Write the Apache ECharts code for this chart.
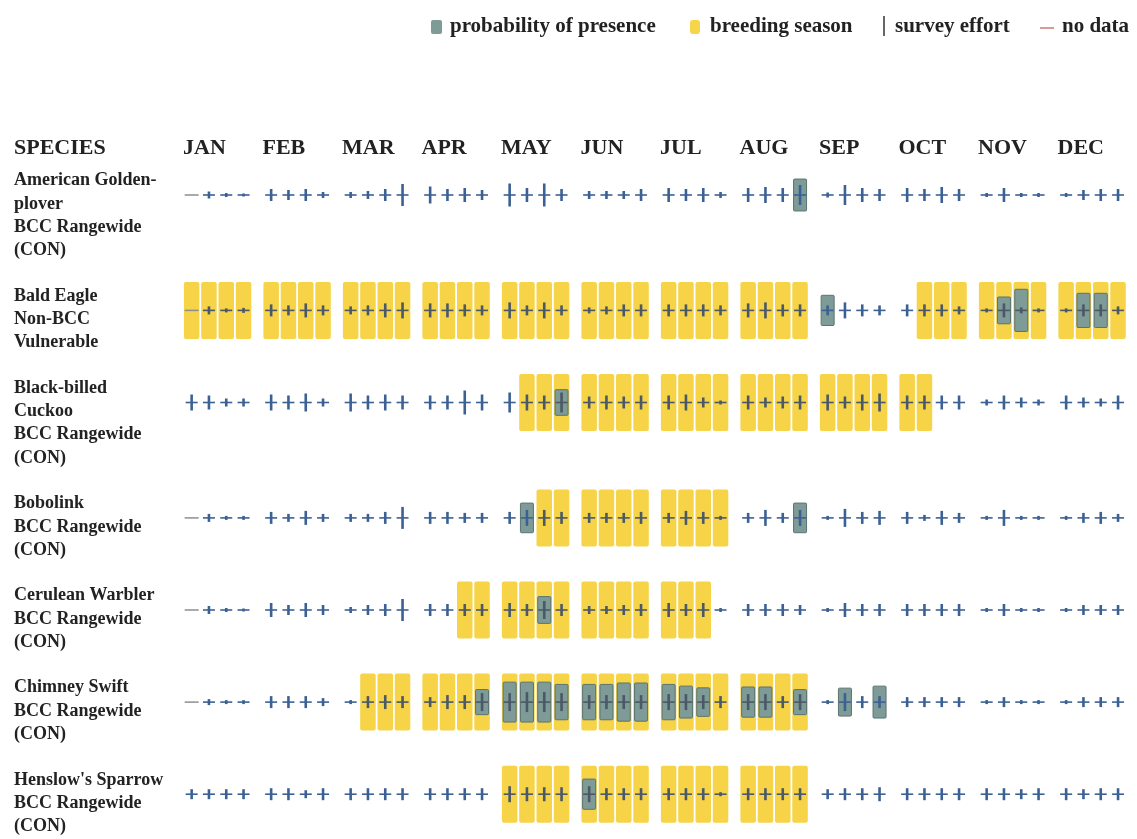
<!DOCTYPE html>
<html>
<head>
<meta charset="utf-8">
<script src="https://cdn.jsdelivr.net/npm/echarts@6/dist/echarts.min.js"></script>
<style>
html,body{margin:0;padding:0;background:#fff;}
#chart{width:1137px;height:839px;}
</style>
</head>
<body>
<div id="chart"></div>
<script>
// ---------------- DATA ----------------
const months = ['JAN','FEB','MAR','APR','MAY','JUN','JUL','AUG','SEP','OCT','NOV','DEC'];
const species = [
  'American Golden-\nplover\nBCC Rangewide\n(CON)',
  'Bald Eagle\nNon-BCC\nVulnerable',
  'Black-billed\nCuckoo\nBCC Rangewide\n(CON)',
  'Bobolink\nBCC Rangewide\n(CON)',
  'Cerulean Warbler\nBCC Rangewide\n(CON)',
  'Chimney Swift\nBCC Rangewide\n(CON)',
  "Henslow's Sparrow\nBCC Rangewide\n(CON)"
];

// survey effort per week (0 = no data), 4 weeks per month
const effortGoldenPlover = [0,3.5,2,1.5, 6,5,6,3, 3,4,6,11, 8.5,6,7,5, 11.5,7,11.5,6, 4,4,4,6, 7,6,7,3, 7,8,7,10, 2.5,10,7,6, 7,6,8,6, 2,7,2,2, 2,5,6,6];
const effortBaldEagle   = [0,4,2,2.5, 6,5,7,5, 4,5,7,8, 7,7,6,5, 8,5,8,5, 3,4,6,6, 6,6,6,5, 7,8,6,6, 5,8,6,5, 6,6,6,4, 2,7,3,2, 2,6,6,4];
const effortCuckoo      = [8,7,4,4, 8,7,9,4, 9,7,8,7, 7,7,12,8, 10,8,7,10, 6,7,6,7, 7,8,5,2, 7,5,6,7, 8,6,8,9, 7,7,7,7, 3,7,5,3, 7,5,4,7];
const effortBobolink    = [0,4,2,2, 6,4,7,4, 4,4,6,11, 6,6,5,5, 6,8,8,6, 5,5,5,6, 5,7,6,2, 5,8,5,8, 2,9,6,7, 6,3,7,5, 2,8,2,2, 2,5,6,4];
const effortCerulean    = [0,4,2,1.5, 7,5,7,5, 3,5,6,11, 6,6,6,6, 7,6,9,6, 4,4,5,6, 7,6,7,2, 6,6,6,5, 2,7,6,6, 6,6,6,6, 2,6,2,2, 2,5,5,5];
const effortSwift       = [0,3,2,2, 6,6,6,4, 2,6,7,6, 5,7,7,9, 9,10,10,9, 7,7,7,7, 8,8,7,6, 8,8,6,8, 2,9,6,6, 5,5,5,5, 2,5,2,2, 2,5,5,5];
const effortHenslow     = [5,5,5,5, 6,6,4,6, 6,6,6,6, 6,6,6,6, 8,7,7,7, 8,6,6,6, 6,6,6,2, 6,6,6,6, 5,6,6,7, 6,6,6,6, 6,6,5,6, 6,5,6,6];

// probability of presence per week (0-10)
const probGoldenPlover = [0,0,0,0, 0,0,0,0, 0,0,0,0, 0,0,0,0, 0,0,0,0, 0,0,0,0, 0,0,0,0, 0,0,0,5.6, 0,0,0,0, 0,0,0,0, 0,0,0,0, 0,0,0,0];
const probBaldEagle   = [0,0,0,0, 0,0,0,0, 0,0,0,0, 0,0,0,0, 0,0,0,0, 0,0,0,0, 0,0,0,0, 0,0,0,0, 5.3,0,0,0, 0,0,0,0, 0,4.7,7.4,0, 0,6,6,0];
const probCuckoo      = [0,0,0,0, 0,0,0,0, 0,0,0,0, 0,0,0,0, 0,0,0,4.5, 0,0,0,0, 0,0,0,0, 0,0,0,0, 0,0,0,0, 0,0,0,0, 0,0,0,0, 0,0,0,0];
const probBobolink    = [0,0,0,0, 0,0,0,0, 0,0,0,0, 0,0,0,0, 0,5.2,0,0, 0,0,0,0, 0,0,0,0, 0,0,0,5.2, 0,0,0,0, 0,0,0,0, 0,0,0,0, 0,0,0,0];
const probCerulean    = [0,0,0,0, 0,0,0,0, 0,0,0,0, 0,0,0,0, 0,0,4.7,0, 0,0,0,0, 0,0,0,0, 0,0,0,0, 0,0,0,0, 0,0,0,0, 0,0,0,0, 0,0,0,0];
const probSwift       = [0,0,0,0, 0,0,0,0, 0,0,0,0, 0,0,0,4.4, 7,7,7,6.2, 6.2,6.2,6.7,6.7, 6.2,5.6,5,0, 5.3,5.3,0,4.4, 0,4.9,0,5.6, 0,0,0,0, 0,0,0,0, 0,0,0,0];
const probHenslow     = [0,0,0,0, 0,0,0,0, 0,0,0,0, 0,0,0,0, 0,0,0,0, 5.3,0,0,0, 0,0,0,0, 0,0,0,0, 0,0,0,0, 0,0,0,0, 0,0,0,0, 0,0,0,0];

// breeding season per week (1 = breeding)
const breedGoldenPlover = [0,0,0,0, 0,0,0,0, 0,0,0,0, 0,0,0,0, 0,0,0,0, 0,0,0,0, 0,0,0,0, 0,0,0,0, 0,0,0,0, 0,0,0,0, 0,0,0,0, 0,0,0,0];
const breedBaldEagle   = [1,1,1,1, 1,1,1,1, 1,1,1,1, 1,1,1,1, 1,1,1,1, 1,1,1,1, 1,1,1,1, 1,1,1,1, 0,0,0,0, 0,1,1,1, 1,1,1,1, 1,1,1,1];
const breedCuckoo      = [0,0,0,0, 0,0,0,0, 0,0,0,0, 0,0,0,0, 0,1,1,1, 1,1,1,1, 1,1,1,1, 1,1,1,1, 1,1,1,1, 1,1,0,0, 0,0,0,0, 0,0,0,0];
const breedBobolink    = [0,0,0,0, 0,0,0,0, 0,0,0,0, 0,0,0,0, 0,0,1,1, 1,1,1,1, 1,1,1,1, 0,0,0,0, 0,0,0,0, 0,0,0,0, 0,0,0,0, 0,0,0,0];
const breedCerulean    = [0,0,0,0, 0,0,0,0, 0,0,0,0, 0,0,1,1, 1,1,1,1, 1,1,1,1, 1,1,1,0, 0,0,0,0, 0,0,0,0, 0,0,0,0, 0,0,0,0, 0,0,0,0];
const breedSwift       = [0,0,0,0, 0,0,0,0, 0,1,1,1, 1,1,1,1, 1,1,1,1, 1,1,1,1, 1,1,1,1, 1,1,1,1, 0,0,0,0, 0,0,0,0, 0,0,0,0, 0,0,0,0];
const breedHenslow     = [0,0,0,0, 0,0,0,0, 0,0,0,0, 0,0,0,0, 1,1,1,1, 1,1,1,1, 1,1,1,1, 1,1,1,1, 0,0,0,0, 0,0,0,0, 0,0,0,0, 0,0,0,0];

const effortRows = [effortGoldenPlover, effortBaldEagle, effortCuckoo, effortBobolink, effortCerulean, effortSwift, effortHenslow];
const probRows   = [probGoldenPlover, probBaldEagle, probCuckoo, probBobolink, probCerulean, probSwift, probHenslow];
const breedRows  = [breedGoldenPlover, breedBaldEagle, breedCuckoo, breedBobolink, breedCerulean, breedSwift, breedHenslow];

// ---------------- LAYOUT ----------------
const FONT = '"Liberation Serif", "DejaVu Serif", serif';
const GRID_LEFT = 183, GRID_TOP = 160, W = 1137, H = 839;
const MONTH_PX = 79.5;
const X_MAX = (W - GRID_LEFT) / MONTH_PX;
const WEEK = 17.3 / MONTH_PX;          // fraction of a month slot per week
const LINE_H = 23.3, ROW_PAD = 22.2, FIRST_TOP = 9, CENTER_OFF = 26;
const Y_MAX = H - GRID_TOP;

function weekX(i) { const m = Math.floor(i / 4), w = i % 4; return m + (w + 0.5) * WEEK; }
const rowTops = [];
{ let t = FIRST_TOP; species.forEach(s => { rowTops.push(t); t += s.split('\n').length * LINE_H + ROW_PAD; }); }
const rowCenters = rowTops.map(t => t + CENTER_OFF);

const breedData = [], probData = [], effortData = [], labelData = [];
species.forEach((s, r) => {
  labelData.push([0, rowTops[r], r]);
  for (let i = 0; i < 48; i++) {
    const x = weekX(i), y = rowCenters[r];
    if (breedRows[r][i]) breedData.push([x, y]);
    if (probRows[r][i] > 0) probData.push([x, y, probRows[r][i]]);
    effortData.push([x, y, effortRows[r][i], breedRows[r][i]]);
  }
});

const chart = echarts.init(document.getElementById('chart'), null, {renderer: 'canvas'});
chart.setOption({
  animation: false,
  backgroundColor: '#fff',
  grid: {left: GRID_LEFT, right: 0, top: GRID_TOP, bottom: 0},
  xAxis: {
    type: 'value', position: 'top', min: 0, max: X_MAX, interval: 1,
    axisLine: {show: false}, axisTick: {show: false}, splitLine: {show: false},
    axisLabel: {
      show: true, showMinLabel: true, showMaxLabel: false,
      formatter: v => months[v] || '', align: 'left', margin: 1,
      fontFamily: FONT, fontWeight: 'bold', fontSize: 22, color: '#222'
    }
  },
  yAxis: {type: 'value', min: 0, max: Y_MAX, inverse: true, show: false},
  graphic: [
    {type: 'text', left: 14, top: 137, style: {text: 'SPECIES', font: 'bold 22px ' + FONT, fill: '#222'}},
    {type: 'rect', shape: {x: 431, y: 20, width: 11, height: 14, r: 2}, style: {fill: '#7f9b97'}},
    {type: 'text', x: 450, y: 27, style: {text: 'probability of presence', font: 'bold 21px ' + FONT, fill: '#222', verticalAlign: 'middle'}},
    {type: 'rect', shape: {x: 690, y: 20, width: 10, height: 14, r: 3}, style: {fill: '#f7d54b'}},
    {type: 'text', x: 710, y: 27, style: {text: 'breeding season', font: 'bold 21px ' + FONT, fill: '#222', verticalAlign: 'middle'}},
    {type: 'line', shape: {x1: 884, y1: 16, x2: 884, y2: 36}, style: {stroke: '#333', lineWidth: 1.5}},
    {type: 'text', x: 895, y: 27, style: {text: 'survey effort', font: 'bold 21px ' + FONT, fill: '#222', verticalAlign: 'middle'}},
    {type: 'line', shape: {x1: 1040, y1: 28, x2: 1054, y2: 28}, style: {stroke: '#d99a9a', lineWidth: 2}},
    {type: 'text', x: 1062, y: 27, style: {text: 'no data', font: 'bold 21px ' + FONT, fill: '#222', verticalAlign: 'middle'}}
  ],
  series: [
    {
      name: 'breeding season', type: 'custom', clip: false, data: breedData, encode: {x: 0, y: 1},
      renderItem: (p, api) => {
        const c = api.coord([api.value(0), api.value(1)]);
        return {type: 'rect', shape: {x: c[0] - 7.75, y: c[1] - 28.5, width: 15.5, height: 57, r: 2}, style: {fill: '#f6d347'}};
      }
    },
    {
      name: 'probability of presence', type: 'custom', clip: false, data: probData, encode: {x: 0, y: 1}, z: 3,
      renderItem: (p, api) => {
        const c = api.coord([api.value(0), api.value(1)]);
        const h = api.value(2) * 5.7;
        return {type: 'rect', shape: {x: c[0] - 6.5, y: c[1] - h / 2, width: 13, height: h, r: 1},
                style: {fill: '#7f9b97', stroke: '#5a7472', lineWidth: 1}};
      }
    },
    {
      name: 'survey effort', type: 'custom', clip: false, data: effortData, encode: {x: 0, y: 1}, z: 4,
      renderItem: (p, api) => {
        const c = api.coord([api.value(0), api.value(1)]);
        const e = api.value(2), br = api.value(3);
        if (e === 0) {
          return {type: 'line', shape: {x1: c[0] - 7, y1: c[1], x2: c[0] + 7, y2: c[1]}, style: {stroke: '#8e8e8e', lineWidth: 1.5}};
        }
        const col = br ? '#4a5867' : '#3b6194';
        const h = e * 2;
        return {type: 'group', children: [
          {type: 'line', shape: {x1: c[0] - 6, y1: c[1], x2: c[0] + 6, y2: c[1]}, style: {stroke: col, lineWidth: 1.6}},
          {type: 'line', shape: {x1: c[0], y1: c[1] - h / 2, x2: c[0], y2: c[1] + h / 2}, style: {stroke: col, lineWidth: 2.6}}
        ]};
      }
    },
    {
      name: 'species', type: 'custom', clip: false, data: labelData, encode: {x: 0, y: 1}, silent: true,
      renderItem: (p, api) => {
        const c = api.coord([api.value(0), api.value(1)]);
        return {type: 'text', x: 14, y: c[1],
                style: {text: species[api.value(2)], font: 'bold 18px ' + FONT, fill: '#222', lineHeight: LINE_H, verticalAlign: 'top'}};
      }
    }
  ]
});
</script>
</body>
</html>
